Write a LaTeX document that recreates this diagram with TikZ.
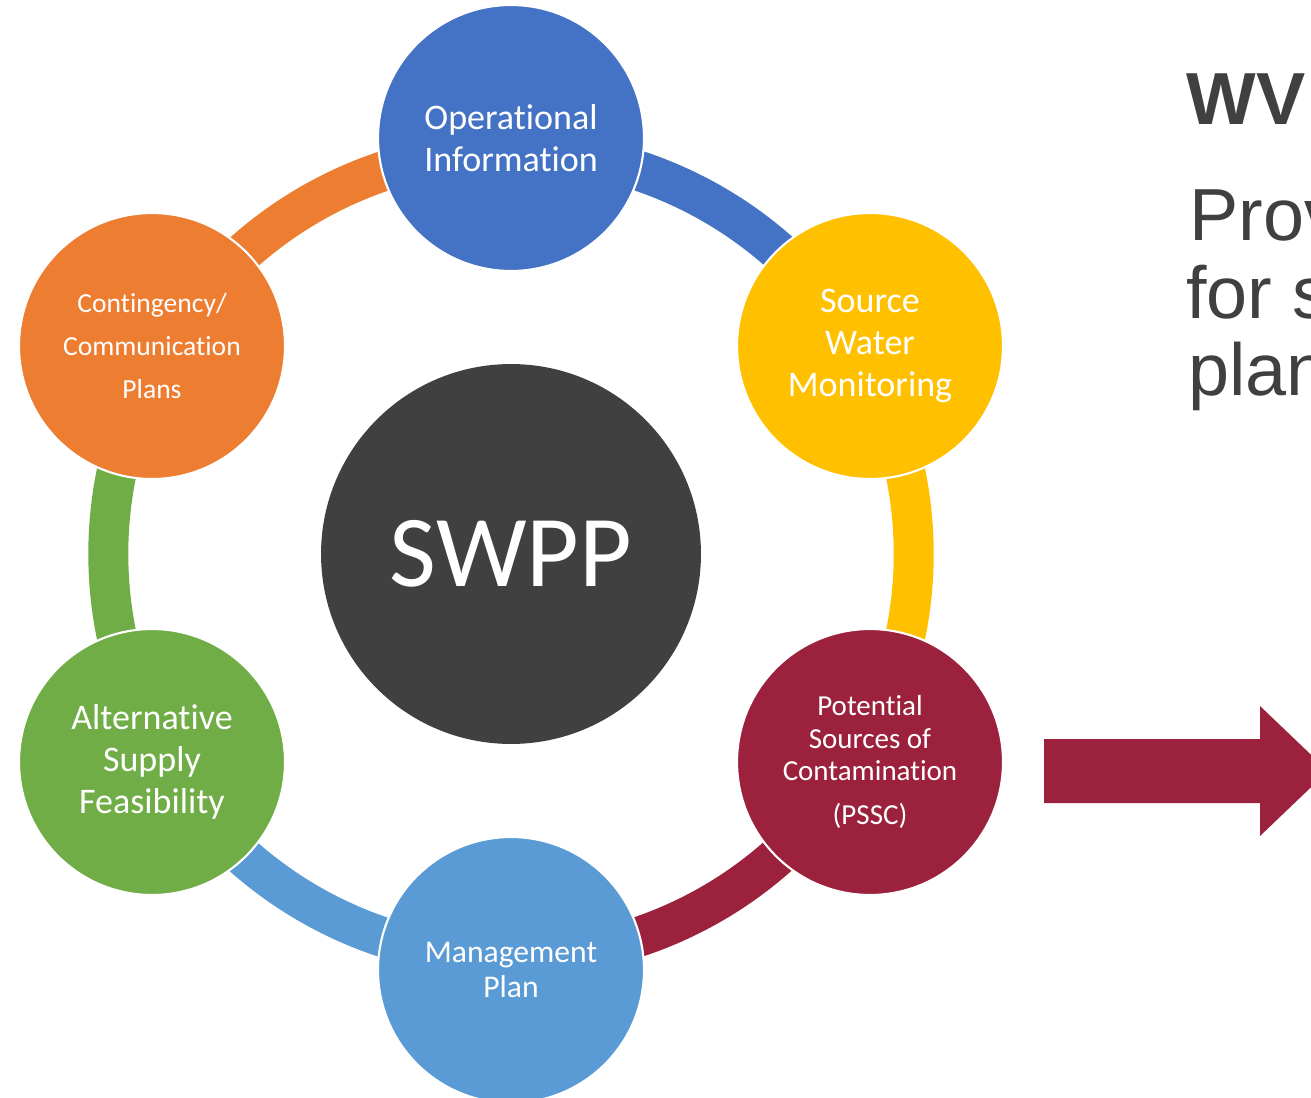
\documentclass[tikz,border=0pt]{standalone}
\usepackage{fontspec}
\setmainfont{Carlito}[Ligatures=NoCommon]
\newfontfamily\arialfont{Liberation Sans}
\usepackage{tikz}
\usetikzlibrary{calc,backgrounds}
\definecolor{opblue}{HTML}{4472C4}
\definecolor{srcyellow}{HTML}{FFC000}
\definecolor{psscred}{HTML}{9B213D}
\definecolor{mgmtblue}{HTML}{5B9BD5}
\definecolor{altgreen}{HTML}{70AD47}
\definecolor{contorange}{HTML}{ED7D31}
\definecolor{coregray}{HTML}{404040}
\tikzset{every picture/.style={x=0.02cm, y=-0.02cm}}
\tikzset{hub/.style={circle, draw=white, line width=1.2pt, text=white, align=center, inner sep=0pt, minimum size=5.32cm}}
\tikzset{ring/.style={line width=0.8cm}}
\tikzset{side/.style={anchor=base west, inner sep=0pt, text=coregray}}

\begin{document}
\begin{tikzpicture}
\useasboundingbox (0,0) rectangle (1311,1098);
\clip (0,0) rectangle (1311,1098);
\node[hub, fill=coregray, draw=none, minimum size=7.6cm, font=\fontsize{58}{60}\selectfont] (core) at (511,554) {SWPP};
\node[hub, fill=opblue, font=\fontsize{20.5}{23.9}\selectfont] (ops) at (511,138) {Operational\\Information};
\node[hub, fill=srcyellow, font=\fontsize{20.5}{23.9}\selectfont] (src) at (870,346) {Source\\Water\\Monitoring};
\node[hub, fill=psscred, font=\fontsize{16.5}{18.5}\selectfont] (pssc) at (870,762) {Potential\\Sources of\\Contamination\\[6.5pt](PSSC)};
\node[hub, fill=mgmtblue, font=\fontsize{18}{19.4}\selectfont] (mgmt) at (511,970) {Management\\Plan};
\node[hub, fill=altgreen, font=\fontsize{20.5}{23.9}\selectfont] (alt) at (152,762) {Alternative\\Supply\\Feasibility};
\node[hub, fill=contorange, font=\fontsize{15.7}{24.5}\selectfont] (cont) at (152,346) {Contingency/\\Communication\\Plans};
% ring pieces, each one runs to the next circle
\begin{scope}[on background layer]
\draw[ring, contorange] ($(core.center)!0.971!(cont.center)$) arc[start angle=210, end angle=270, radius=404];
\draw[ring, opblue] ($(core.center)!0.971!(ops.center)$) arc[start angle=270, end angle=330, radius=404];
\draw[ring, srcyellow] ($(core.center)!0.971!(src.center)$) arc[start angle=330, end angle=390, radius=404];
\draw[ring, psscred] ($(core.center)!0.971!(pssc.center)$) arc[start angle=30, end angle=90, radius=404];
\draw[ring, mgmtblue] ($(core.center)!0.971!(mgmt.center)$) arc[start angle=90, end angle=150, radius=404];
\draw[ring, altgreen] ($(core.center)!0.971!(alt.center)$) arc[start angle=150, end angle=210, radius=404];
\end{scope}
\fill[psscred] (1044,739) -- (1260,739) -- (1260,706) -- (1328,771) -- (1260,836) -- (1260,803) -- (1044,803) -- cycle;
\node[side, font=\arialfont\bfseries\fontsize{42}{42}\selectfont] (wv) at (1186,125) {WV};
\node[side, font=\arialfont\fontsize{42}{44}\selectfont] (prov) at (1189,240) {Prov};
\node[side, font=\arialfont\fontsize{42}{44}\selectfont] (fors) at (1186,318) {for s};
\node[side, font=\arialfont\fontsize{42}{44}\selectfont] (plan) at (1188,395) {plan};
\end{tikzpicture}
\end{document}
